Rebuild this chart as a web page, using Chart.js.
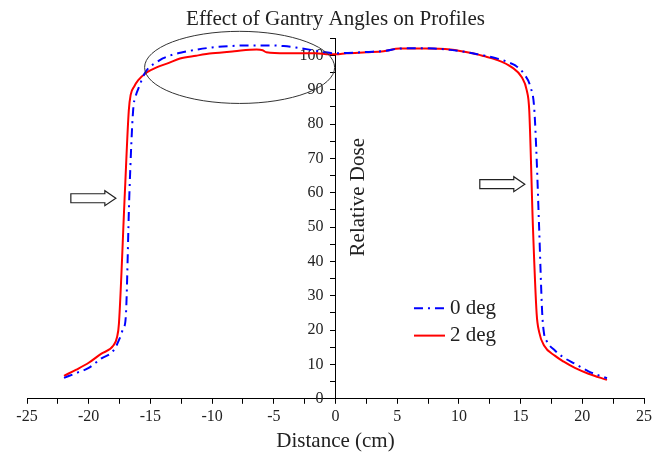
<!DOCTYPE html>
<html>
<head>
<meta charset="utf-8">
<script src="https://cdn.jsdelivr.net/npm/chart.js@4.4.1/dist/chart.umd.min.js"></script>
<style>
  html, body { margin: 0; padding: 0; background: #fff; }
  #wrap { width: 665px; height: 458px; }
</style>
</head>
<body>
<div id="wrap"><canvas id="grafica"></canvas></div>
<script>
// perfil a 0 grados (azul, raya-punto)
const distancia0 = [-22, -21, -20, -19, -18, -17.5, -17.2, -17.0, -16.7, -16.4, -16.2, -15.9, -15.5, -15.1, -14.5, -14.0, -13.2, -12.4, -11.2, -10.0, -8.6, -7.2, -5.4, -4.2, -3.2, -2.0, -1.0, 0, 1.0, 2.5, 4.0, 5.2, 6.5, 8.0, 9.3, 10.2, 11.1, 12.0, 13.0, 14.0, 14.6, 15.3, 15.8, 16.1, 16.3, 16.5, 16.75, 16.9, 17.1, 17.8, 18.5, 19.4, 20.5, 22];
const dosis0 = [6.1, 7.5, 9.0, 11.7, 14.0, 17.5, 20.5, 23.6, 60, 84, 88, 91, 94.5, 96.5, 98, 99.1, 100.2, 100.9, 101.7, 102.3, 102.7, 102.9, 102.9, 102.7, 102.3, 101.6, 101.0, 100.6, 100.7, 101.0, 101.3, 102.0, 102.1, 102.0, 101.6, 101.2, 100.6, 100.0, 99.2, 98.0, 97.0, 94.5, 90.8, 84.8, 70, 50, 25, 19, 16.9, 14, 12, 10.2, 8.0, 6.0];

// perfil a 2 grados (rojo, continua)
const distancia2 = [-22, -21, -20, -19, -18, -17.7, -17.55, -17.07, -16.75, -16.6, -16.3, -16.0, -15.3, -14.5, -13.5, -12.6, -11.3, -10, -8.2, -6.4, -5.9, -5.6, -4, -2.5, -1.6, -0.5, 0, 0.9, 2.5, 3.9, 5.2, 7.3, 9.3, 11.1, 12, 13, 14.3, 15.1, 15.5, 15.7, 16.0, 16.3, 16.5, 16.9, 17.8, 18.5, 19.4, 20.5, 22];
const dosis2 = [6.7, 8.5, 10.5, 13.1, 15.5, 18, 21.9, 60, 84, 88.5, 91, 92.7, 95, 96.5, 97.8, 99.1, 99.9, 100.6, 101.2, 101.7, 101.5, 100.9, 100.6, 100.6, 100.6, 100.3, 100.3, 100.6, 100.9, 101.2, 102.0, 102.0, 101.7, 100.6, 99.8, 98.8, 96.5, 93.6, 89.8, 84, 50, 24.8, 19.5, 15.5, 12.5, 10.8, 9.0, 7.3, 5.5];

const etiquetas = ['0 deg', '2 deg'];
const serif = 'Liberation Serif, Times New Roman, serif';

function puntos(xs, ys) {
  return xs.map((x, i) => ({ x: x, y: ys[i] }));
}

// elipse, flechas, leyenda y titulo del eje y encima de todo
const extras = {
  id: 'extras',
  afterDraw(chart) {
    const ctx = chart.ctx;
    const sx = chart.scales.x;
    const sy = chart.scales.y;
    ctx.save();

    // elipse alrededor del hombro izquierdo
    const cx = sx.getPixelForValue(-7.77);
    const cy = sy.getPixelForValue(96.5);
    const rx = sx.getPixelForValue(-7.77 + 7.7) - cx;
    const ry = cy - sy.getPixelForValue(96.5 + 10.5);
    ctx.beginPath();
    ctx.ellipse(cx, cy, rx, ry, 0, 0, Math.PI * 2);
    ctx.strokeStyle = '#333';
    ctx.lineWidth = 1;
    ctx.stroke();

    // flechas huecas
    flecha(ctx, sx.getPixelForValue(-17.8), sy.getPixelForValue(58.4));
    flecha(ctx, sx.getPixelForValue(15.34), sy.getPixelForValue(62.5));

    // leyenda
    const lx = sx.getPixelForValue(6.36);
    const ly = [sy.getPixelForValue(26.4), sy.getPixelForValue(18.4)];
    chart.data.datasets.forEach((ds, i) => {
      ctx.beginPath();
      ctx.setLineDash(ds.borderDash || []);
      ctx.strokeStyle = ds.borderColor;
      ctx.lineWidth = 2;
      ctx.moveTo(lx, ly[i]);
      ctx.lineTo(lx + 31, ly[i]);
      ctx.stroke();
      ctx.setLineDash([]);
      ctx.fillStyle = '#222';
      ctx.font = '21px ' + serif;
      ctx.textBaseline = 'middle';
      ctx.textAlign = 'left';
      ctx.fillText(ds.label, lx + 36, ly[i]);
    });

    // titulo del eje y, a la derecha del eje
    ctx.save();
    ctx.translate(sx.getPixelForValue(1.9), sy.getPixelForValue(58.7));
    ctx.rotate(-Math.PI / 2);
    ctx.fillStyle = '#222';
    ctx.font = '21px ' + serif;
    ctx.textAlign = 'center';
    ctx.textBaseline = 'middle';
    ctx.fillText('Relative Dose', 0, 0);
    ctx.restore();

    ctx.restore();
  }
};

function flecha(ctx, tx, ty) {
  ctx.beginPath();
  ctx.moveTo(tx, ty);
  ctx.lineTo(tx - 11, ty - 7.5);
  ctx.lineTo(tx - 11, ty - 4.5);
  ctx.lineTo(tx - 45, ty - 4.5);
  ctx.lineTo(tx - 45, ty + 4.5);
  ctx.lineTo(tx - 11, ty + 4.5);
  ctx.lineTo(tx - 11, ty + 7.5);
  ctx.closePath();
  ctx.fillStyle = '#fff';
  ctx.fill();
  ctx.strokeStyle = '#222';
  ctx.lineWidth = 1.2;
  ctx.stroke();
}

function mostrarGrafica() {
  const ctx = document.getElementById('grafica').getContext('2d');

  new Chart(ctx, {
    type: 'scatter',
    data: {
      datasets: [{
        label: etiquetas[0],
        data: puntos(distancia0, dosis0),
        showLine: true,
        borderColor: '#0000ff',
        borderWidth: 2,
        borderDash: [9, 5, 2, 5],
        pointRadius: 0,
        cubicInterpolationMode: 'monotone'
      }, {
        label: etiquetas[1],
        data: puntos(distancia2, dosis2),
        showLine: true,
        borderColor: '#ff0000',
        borderWidth: 2,
        pointRadius: 0,
        cubicInterpolationMode: 'monotone'
      }]
    },
    options: {
      responsive: true,
      maintainAspectRatio: false,
      animation: false,
      layout: { padding: { left: 27, right: 21, top: 0, bottom: 6 } },
      plugins: {
        legend: { display: false },
        tooltip: { enabled: false },
        title: {
          display: true,
          text: 'Effect of Gantry Angles on Profiles',
          color: '#222',
          font: { family: serif, size: 21, weight: 'normal' },
          padding: { top: 7, bottom: 6 }
        }
      },
      scales: {
        x: {
          type: 'linear',
          position: 'bottom',
          min: -25,
          max: 25,
          grid: { drawOnChartArea: false, drawTicks: true, tickLength: 5, color: '#000' },
          border: { color: '#000', width: 1 },
          ticks: {
            stepSize: 2.5,
            autoSkip: false,
            maxRotation: 0,
            padding: 3,
            color: '#222',
            font: { family: serif, size: 16 },
            callback: v => (v % 5 === 0 ? v : '')
          },
          title: {
            display: true,
            text: 'Distance (cm)',
            color: '#222',
            font: { family: serif, size: 21, lineHeight: 1 },
            padding: { top: 2, bottom: 0 }
          }
        },
        y: {
          type: 'linear',
          position: { x: 0 },
          min: 0,
          max: 105,
          grid: { drawOnChartArea: false, drawTicks: true, tickLength: 5, color: '#000' },
          border: { color: '#000', width: 1 },
          ticks: {
            stepSize: 5,
            autoSkip: false,
            color: '#222',
            font: { family: serif, size: 16 },
            // el eje esta centrado: espacios para separar la etiqueta de la marca
            callback: v => (v % 10 === 0 ? v + '   ' : '')
          }
        }
      }
    },
    plugins: [extras]
  });
}

window.onload = mostrarGrafica;
</script>
</body>
</html>
